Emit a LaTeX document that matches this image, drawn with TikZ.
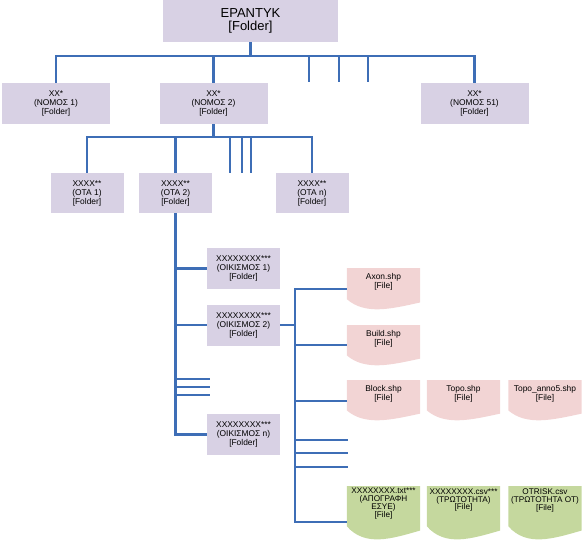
\documentclass[tikz,border=0pt]{standalone}
\usepackage{fontspec}
\setmainfont{Liberation Sans}
\usetikzlibrary{calc,backgrounds}
\definecolor{lnblue}{RGB}{62,110,182}
\definecolor{folderc}{RGB}{216,209,228}
\definecolor{pinkc}{RGB}{242,212,212}
\definecolor{greenc}{RGB}{197,216,158}
\newcommand\docfill[3]{%
  \fill[#2] (#1.north west) -- (#1.north east) -- ($(#1.north east)+(0,0.84*#3)$)
    .. controls ($(#1.north west)!0.6!(#1.north east)+(0,1.0*#3)$)
    and ($(#1.north west)!0.25!(#1.north east)+(0,1.15*#3)$)
    .. ($(#1.north west)+(0,0.76*#3)$) -- cycle;}
\begin{document}
\begin{tikzpicture}[x=1pt,y=-1pt,
  conn/.style={draw=lnblue,line width=2.7pt},
  folder/.style={fill=folderc,inner sep=1pt,align=center,
    font=\fontsize{8.4}{9}\selectfont,minimum height=41},
  doc/.style={anchor=north,minimum width=73,inner xsep=0.5pt,inner ysep=0pt,
    align=center,font=\fontsize{8.4}{9}\selectfont,minimum height=27},
  gdoc/.style={doc,inner ysep=2pt,minimum height=28,font=\fontsize{8.2}{7.8}\selectfont}]
\useasboundingbox (0,0) rectangle (582,542);

% folders
\node[folder,minimum width=175,minimum height=42,font=\fontsize{13}{13.5}\selectfont] (top) at (250.5,21) {ΕΡΑΝΤΥΚ\\{[Folder]}};
\node[folder,minimum width=108] (n1) at (56,103.5) {XX*\\(ΝΟΜΟΣ 1)\\{[Folder]}};
\node[folder,minimum width=108] (n2) at (213.5,103.5) {XX*\\(ΝΟΜΟΣ 2)\\{[Folder]}};
\node[folder,minimum width=108] (n51) at (474.5,103.5) {XX*\\(ΝΟΜΟΣ 51)\\{[Folder]}};
\node[folder,minimum width=73,minimum height=40] (o1) at (87,193) {XXXX**\\(ΟΤΑ 1)\\{[Folder]}};
\node[folder,minimum width=73,minimum height=40] (o2) at (175.5,193) {XXXX**\\(ΟΤΑ 2)\\{[Folder]}};
\node[folder,minimum width=73,minimum height=40] (on) at (312,193) {XXXX**\\(ΟΤΑ n)\\{[Folder]}};
\node[folder,minimum width=73] (k1) at (243.5,268.5) {XXXXXXXX***\\(ΟΙΚΙΣΜΟΣ 1)\\{[Folder]}};
\node[folder,minimum width=73] (k2) at (243.5,325) {XXXXXXXX***\\(ΟΙΚΙΣΜΟΣ 2)\\{[Folder]}};
\node[folder,minimum width=73] (kn) at (243.5,434.5) {XXXXXXXX***\\(ΟΙΚΙΣΜΟΣ n)\\{[Folder]}};

% files
\node[doc] (axon) at (383.5,268) {Axon.shp\\{[File]}};
\node[doc] (build) at (383.5,325) {Build.shp\\{[File]}};
\node[doc] (block) at (383.5,380) {Block.shp\\{[File]}};
\node[doc] (topo) at (463.5,380) {Topo.shp\\{[File]}};
\node[doc] (topoa) at (545,380) {Topo\_anno5.shp\\{[File]}};
\node[gdoc] (g1) at (383.5,486) {XXXXXXXX.txt***\\(ΑΠΟΓΡΑΦΗ\\ΕΣΥΕ)\\{[File]}};
\node[gdoc] (g2) at (463.5,486) {XXXXXXXX.csv***\\(ΤΡΩΤΟΤΗΤΑ)\\{[File]}};
\node[gdoc] (g3) at (545,486) {OTRISK.csv\\(ΤΡΩΤΟΤΗΤΑ ΟΤ)\\{[File]}};

\begin{scope}[on background layer]
\docfill{axon}{pinkc}{41}
\docfill{build}{pinkc}{40}
\docfill{block}{pinkc}{40}
\docfill{topo}{pinkc}{40}
\docfill{topoa}{pinkc}{40}
\docfill{g1}{greenc}{53}
\docfill{g2}{greenc}{53}
\docfill{g3}{greenc}{53}
\end{scope}

% level 1 bus
\coordinate (h1) at (250.5,56);
\draw[conn] (n1.north) |- (h1) -| (n51.north);
\draw[conn] (top.south) -- (h1);
\draw[conn] (n2.north) -- (n2.north |- h1);
\coordinate (s1) at (309,82);
\coordinate (s2) at (339,82);
\coordinate (s3) at (368,82);
\foreach \s in {s1,s2,s3} \draw[conn] (\s |- h1) -- (\s);

% level 2 bus
\coordinate (h2) at (213.5,137);
\draw[conn] (o1.north) |- (h2) -| (on.north);
\draw[conn] (n2.south) -- (h2);
\draw[conn] (o2.north) -- (o2.north |- h2);
\coordinate (r1) at (230,173);
\coordinate (r2) at (242,173);
\coordinate (r3) at (251,173);
\foreach \s in {r1,r2,r3} \draw[conn] (\s |- h2) -- (\s);

% level 3 trunk
\draw[conn] (o2.south) |- (kn.west);
\draw[conn] (o2.south |- k1.west) -- (k1.west);
\draw[conn] (o2.south |- k2.west) -- (k2.west);
\coordinate (u1) at (210,379);
\coordinate (u2) at (210,387);
\coordinate (u3) at (210,395);
\foreach \s in {u1,u2,u3} \draw[conn] (\s -| o2.south) -- (\s);

% file trunk
\coordinate (fA) at (295,289);
\coordinate (fB) at (295,345);
\coordinate (fC) at (295,401);
\coordinate (fG) at (295,522);
\draw[conn] (k2.east) -- (k2.east -| fA);
\draw[conn] (axon.west |- fA) -- (fA) -- (fG) -- (fG -| g1.west);
\draw[conn] (fB) -- (fB -| build.west);
\draw[conn] (fC) -- (fC -| block.west);
\coordinate (v1) at (348,440);
\coordinate (v2) at (348,453);
\coordinate (v3) at (348,467);
\foreach \s in {v1,v2,v3} \draw[conn] (\s -| fA) -- (\s);
\end{tikzpicture}
\end{document}
